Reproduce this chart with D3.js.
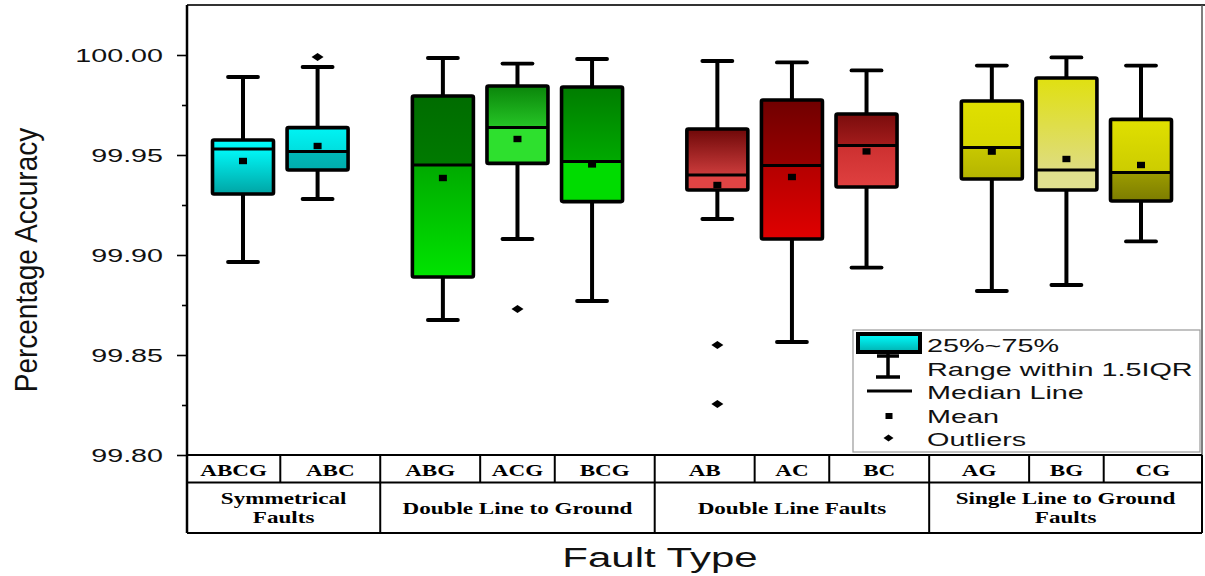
<!DOCTYPE html>
<html><head><meta charset="utf-8">
<script src="https://cdn.jsdelivr.net/npm/d3@7"></script>
<style>body{margin:0;background:#fff}svg{display:block}</style>
</head><body><svg id="chart" width="1205" height="576"></svg>
<script>
// ---------------- data ----------------
const categories = ["ABCG","ABC","ABG","ACG","BCG","AB","AC","BC","AG","BG","CG"];
const groupOf    = [0,0,1,1,1,2,2,2,3,3,3];
const groupNames = [["Symmetrical","Faults"],["Double Line to Ground"],["Double Line Faults"],["Single Line to Ground","Faults"]];
const whiskerLow  = [99.8965,99.9280,99.8675,99.9080,99.8770,99.9180,99.8565,99.8937,99.8820,99.8850,99.9068];
const q1          = [99.9305,99.9425,99.8890,99.9458,99.9267,99.9325,99.9080,99.9340,99.9380,99.9325,99.9270];
const medians     = [99.9530,99.9517,99.9450,99.9637,99.9467,99.9400,99.9448,99.9547,99.9537,99.9425,99.9413];
const q3          = [99.9575,99.9637,99.9795,99.9845,99.9840,99.9630,99.9775,99.9705,99.9770,99.9885,99.9678];
const whiskerHigh = [99.9890,99.9940,99.9985,99.9957,99.9980,99.9970,99.9963,99.9923,99.9947,99.9988,99.9947];
const means       = [99.9470,99.9545,99.9385,99.9580,99.9453,99.9350,99.9390,99.9518,99.9517,99.9480,99.9450];
const outliers    = [[],[99.999],[],[99.873],[],[99.855,99.8255],[],[],[],[],[]];
const yTicks      = [99.80,99.85,99.90,99.95,100.00];
const yMinorTicks = [99.825,99.875,99.925,99.975];
const legendLabels = ["25%~75%","Range within 1.5IQR","Median Line","Mean","Outliers"];
const xTitle = "Fault Type";
const yTitle = "Percentage Accuracy";

// ---------------- styles ----------------
const upperColors = [["#00ffff","#00f0f0"],["#00f4f4","#00dede"],["#006c00","#007a00"],["#0a850a","#26c626"],["#007c00","#00aa00"],
                     ["#6e0808","#cc3c3c"],["#700000","#980000"],["#7a0c0c","#a41c1c"],["#e0e000","#d6d600"],["#e0e010","#dedc80"],["#e0e000","#cccc00"]];
const lowerColors = [["#00f8f8","#00a4a4"],["#00b8b8","#00acac"],["#00aa00","#00e400"],["#2ee02e","#2ee02e"],["#00dc00","#00dc00"],
                     ["#e04444","#e04444"],["#b40000","#e00000"],["#cc3030","#e04040"],["#c8c800","#b4b400"],["#e0e08c","#e0e090"],["#9c9c00","#7c7c00"]];
const sansFont = "'Liberation Sans', Arial, sans-serif";
const serifFont = "'Liberation Serif', 'Times New Roman', serif";
const sansStretch = 1.55, serifStretch = 1.4;

// ---------------- layout ----------------
const svg = d3.select("#chart");
const plotL = 187, plotR = 1202, plotT = 5, plotB = 455;
const row1B = 482.5, row2B = 533;
const groupGap = 0.68;
const slots = categories.map((c,i) => i + groupOf[i]*groupGap);
const x = d3.scaleLinear().domain([0, d3.max(slots)]).range([243, 1141]);
const y = d3.scaleLinear().domain([99.80, 100.025]).range([plotB, plotT]);
const boxW = 61, capW = 30;
const diamond = (w,h) => `M${-w/2},0L0,${-h/2}L${w/2},0L0,${h/2}Z`;

const defs = svg.append("defs");
function grad(id, c){
  const g = defs.append("linearGradient").attr("id", id).attr("x1",0).attr("y1",0).attr("x2",0).attr("y2",1);
  g.append("stop").attr("offset","0%").attr("stop-color",c[0]);
  g.append("stop").attr("offset","100%").attr("stop-color",c[1]);
}
categories.forEach((c,i)=>{ grad("up"+i, upperColors[i]); grad("lo"+i, lowerColors[i]); });
grad("legendGrad", ["#00ffff","#00b0b0"]);

// frame
svg.append("line").attr("x1",plotL).attr("x2",1205).attr("y1",plotT).attr("y2",plotT).attr("stroke","#333").attr("stroke-width",2);
svg.append("line").attr("x1",plotR).attr("x2",plotR).attr("y1",plotT).attr("y2",row2B).attr("stroke","#555").attr("stroke-width",1.5);

// axis
const axisG = svg.append("g").attr("transform",`translate(${plotL},0)`);
axisG.call(d3.axisLeft(y).tickValues(yTicks).tickSize(10).tickFormat(d3.format(".2f")));
axisG.select(".domain").remove();
axisG.selectAll(".tick line").attr("stroke","#000").attr("stroke-width",1.6);
axisG.selectAll(".tick text").attr("x",null).attr("dy",null)
  .attr("transform",`translate(-24,6.5) scale(${sansStretch},1)`)
  .attr("text-anchor","end").style("font-family",sansFont).style("font-size","18.5px").attr("fill","#111");
const minorG = svg.append("g").attr("transform",`translate(${plotL},0)`);
minorG.call(d3.axisLeft(y).tickValues(yMinorTicks).tickSize(5).tickFormat(""));
minorG.select(".domain").remove();
minorG.selectAll(".tick line").attr("stroke","#000").attr("stroke-width",1.6);
svg.append("line").attr("x1",plotL).attr("x2",plotL).attr("y1",plotT).attr("y2",row2B).attr("stroke","#000").attr("stroke-width",2.5);

// boxes
const boxes = svg.append("g");
categories.forEach((c,i)=>{
  const cx = x(slots[i]);
  const g = boxes.append("g");
  g.append("line").attr("x1",cx).attr("x2",cx).attr("y1",y(whiskerHigh[i])).attr("y2",y(q3[i])).attr("stroke","#000").attr("stroke-width",4);
  g.append("line").attr("x1",cx).attr("x2",cx).attr("y1",y(q1[i])).attr("y2",y(whiskerLow[i])).attr("stroke","#000").attr("stroke-width",4);
  [whiskerHigh[i], whiskerLow[i]].forEach(v=>{
    g.append("line").attr("x1",cx-capW/2).attr("x2",cx+capW/2).attr("y1",y(v)).attr("y2",y(v))
      .attr("stroke","#000").attr("stroke-width",3.8).attr("stroke-linecap","round");
  });
  g.append("rect").attr("x",cx-boxW/2).attr("width",boxW).attr("y",y(q3[i])).attr("height",y(medians[i])-y(q3[i])).attr("fill",`url(#up${i})`);
  g.append("rect").attr("x",cx-boxW/2).attr("width",boxW).attr("y",y(medians[i])).attr("height",y(q1[i])-y(medians[i])).attr("fill",`url(#lo${i})`);
  g.append("rect").attr("x",cx-boxW/2).attr("width",boxW).attr("y",y(q3[i])).attr("height",y(q1[i])-y(q3[i]))
    .attr("fill","none").attr("stroke","#000").attr("stroke-width",3.6).attr("rx",1.5);
  g.append("line").attr("x1",cx-boxW/2).attr("x2",cx+boxW/2).attr("y1",y(medians[i])).attr("y2",y(medians[i])).attr("stroke","#000").attr("stroke-width",3);
  g.append("rect").attr("x",cx-4).attr("y",y(means[i])-3.2).attr("width",8).attr("height",6.4).attr("fill","#000");
  outliers[i].forEach(v=>{
    g.append("path").attr("d",diamond(12,8)).attr("transform",`translate(${cx},${y(v)})`).attr("fill","#000");
  });
});

// table
const tbl = svg.append("g");
const tl = (x1,y1,x2,y2)=>tbl.append("line").attr("x1",x1).attr("y1",y1).attr("x2",x2).attr("y2",y2).attr("stroke","#000").attr("stroke-width",2);
tl(plotL,plotB,plotR,plotB); tl(plotL,row1B,plotR,row1B); tl(plotL,row2B,plotR,row2B);
const bounds = [plotL];
for(let i=1;i<categories.length;i++) bounds.push((x(slots[i-1])+x(slots[i]))/2);
bounds.push(plotR);
for(let i=1;i<categories.length;i++){
  const groupBoundary = groupOf[i]!==groupOf[i-1];
  tl(bounds[i],plotB,bounds[i], groupBoundary? row2B : row1B);
}
tl(plotR,plotB,plotR,row2B);
categories.forEach((c,i)=>{
  const cx = (bounds[i]+bounds[i+1])/2;
  tbl.append("text").attr("transform",`translate(${cx},476) scale(${serifStretch},1)`).attr("text-anchor","middle")
    .style("font-family",serifFont).style("font-weight","bold").style("font-size","16.5px").text(c);
});
groupNames.forEach((lines,gi)=>{
  const idx = groupOf.map((g,i)=>g===gi?i:-1).filter(i=>i>=0);
  const cx = (bounds[idx[0]] + bounds[idx[idx.length-1]+1])/2;
  const base = lines.length===1 ? [514] : [504,523];
  lines.forEach((t,k)=>{
    tbl.append("text").attr("transform",`translate(${cx},${base[k]}) scale(${serifStretch},1)`).attr("text-anchor","middle")
      .style("font-family",serifFont).style("font-weight","bold").style("font-size","16.5px").text(t);
  });
});

// titles
svg.append("text").attr("transform",`translate(660,567) scale(1.5,1)`).attr("text-anchor","middle")
  .style("font-family",sansFont).style("font-size","28px").attr("fill","#111").text(xTitle);
svg.append("text").attr("transform",`translate(37,260) scale(1.1,1) rotate(-90)`).attr("text-anchor","middle")
  .style("font-family",sansFont).style("font-size","28px").attr("fill","#111").text(yTitle);

// legend
const lg = svg.append("g");
lg.append("rect").attr("x",853).attr("y",330).attr("width",347).attr("height",122).attr("fill","#fff").attr("stroke","#999").attr("stroke-width",1.2);
lg.append("line").attr("x1",888).attr("x2",888).attr("y1",352).attr("y2",377).attr("stroke","#000").attr("stroke-width",3.5);
lg.append("line").attr("x1",877).attr("x2",899).attr("y1",356).attr("y2",356).attr("stroke","#000").attr("stroke-width",3.5);
lg.append("line").attr("x1",876).attr("x2",900).attr("y1",377).attr("y2",377).attr("stroke","#000").attr("stroke-width",3.5);
lg.append("rect").attr("x",858).attr("y",334).attr("width",62).attr("height",18).attr("fill","url(#legendGrad)").attr("stroke","#000").attr("stroke-width",4);
lg.append("line").attr("x1",867).attr("x2",912).attr("y1",391).attr("y2",391).attr("stroke","#000").attr("stroke-width",3);
lg.append("rect").attr("x",885.5).attr("y",413).attr("width",7).attr("height",6).attr("fill","#000");
lg.append("path").attr("d",diamond(10,7)).attr("transform",`translate(888.5,438)`).attr("fill","#000");
const legBase = [352,375.5,399,422.5,446];
legendLabels.forEach((t,k)=>{
  lg.append("text").attr("transform",`translate(927,${legBase[k]}) scale(1.6,1)`)
    .style("font-family",sansFont).style("font-size","18px").attr("fill","#111").text(t);
});
</script>
</body></html>
